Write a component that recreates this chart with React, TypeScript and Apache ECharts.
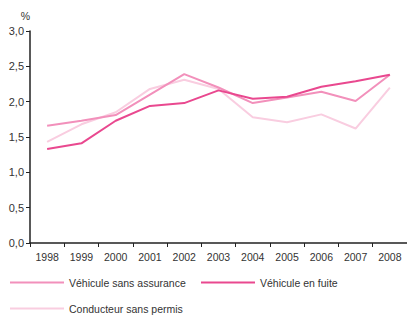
import React, { useEffect, useRef } from "react";
import * as echarts from "echarts";

const years = ["1998", "1999", "2000", "2001", "2002", "2003", "2004", "2005", "2006", "2007", "2008"];
const sansAssurance = [1.66, 1.73, 1.81, 2.1, 2.39, 2.2, 1.98, 2.06, 2.14, 2.01, 2.38];
const enFuite = [1.33, 1.41, 1.73, 1.94, 1.98, 2.16, 2.04, 2.07, 2.21, 2.29, 2.38];
const sansPermis = [1.43, 1.68, 1.85, 2.18, 2.31, 2.18, 1.78, 1.71, 1.82, 1.62, 2.2];

const seriesNames = ["Véhicule sans assurance", "Véhicule en fuite", "Conducteur sans permis"];
const colors = ["#f290bb", "#e9488f", "#f9cde0"];

const FONT = "'Liberation Sans', Arial, sans-serif";

export default function App() {
  const ref = useRef<HTMLDivElement>(null);
  useEffect(() => {
    if (!ref.current) return;
    const chart = echarts.init(ref.current, null, { renderer: "svg" });
    const legendBase = {
      icon: "rect",
      itemWidth: 54,
      itemHeight: 2,
      itemGap: 10,
      textStyle: { fontFamily: FONT, fontSize: 10.5, color: "#333" },
      padding: 0,
    };
    chart.setOption({
      animation: false,
      textStyle: { fontFamily: FONT },
      grid: { left: 30, top: 31, bottom: 72, right: -2, containLabel: false },
      legend: [
        { ...legendBase, data: [seriesNames[0]], left: 10, top: 277 },
        { ...legendBase, data: [seriesNames[1]], left: 201, top: 277 },
        { ...legendBase, data: [seriesNames[2]], left: 10, top: 303 },
      ],
      xAxis: {
        type: "category",
        data: years,
        boundaryGap: true,
        axisLine: { lineStyle: { color: "#222", width: 1.5 } },
        axisTick: { show: true, length: 4, lineStyle: { color: "#222" } },
        axisLabel: { interval: 0, fontFamily: FONT, fontSize: 10.5, color: "#333", margin: 8 },
      },
      yAxis: {
        type: "value",
        min: 0,
        max: 3,
        interval: 0.5,
        name: "%",
        nameLocation: "end",
        nameGap: 10,
        nameTextStyle: { fontFamily: FONT, fontSize: 10.5, color: "#333", align: "right" },
        splitLine: { show: false },
        axisLine: { show: true, lineStyle: { color: "#222", width: 1.5 } },
        axisTick: { show: true, length: 4, lineStyle: { color: "#222" } },
        axisLabel: {
          fontFamily: FONT,
          fontSize: 11,
          color: "#333",
          margin: 6,
          formatter: (v: number) => v.toFixed(1).replace(".", ","),
        },
      },
      series: [
        { name: seriesNames[2], type: "line", data: sansPermis, symbol: "none", lineStyle: { width: 2, color: colors[2] }, itemStyle: { color: colors[2] }, z: 1 },
        { name: seriesNames[0], type: "line", data: sansAssurance, symbol: "none", lineStyle: { width: 2, color: colors[0] }, itemStyle: { color: colors[0] }, z: 2 },
        { name: seriesNames[1], type: "line", data: enFuite, symbol: "none", lineStyle: { width: 2, color: colors[1] }, itemStyle: { color: colors[1] }, z: 3 },
      ],
    });
    return () => chart.dispose();
  }, []);
  return <div ref={ref} style={{ width: 407, height: 315, position: "absolute", left: 0, top: 0 }} />;
}
